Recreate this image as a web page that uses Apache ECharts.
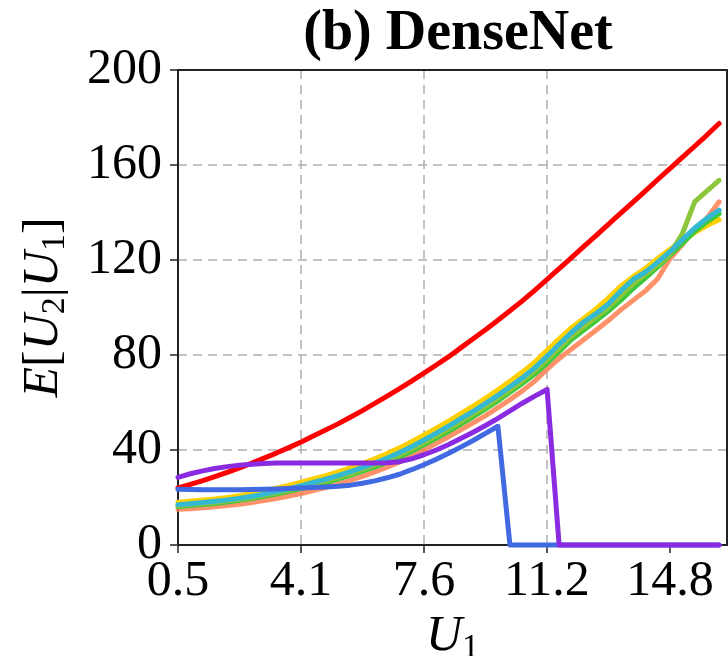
<!DOCTYPE html>
<html>
<head>
<meta charset="utf-8">
<script src="https://cdn.jsdelivr.net/npm/echarts@6/dist/echarts.min.js"></script>
<style>html,body{margin:0;padding:0;background:#fff;}#c{width:728px;height:656px;}</style>
</head>
<body>
<div id="c"></div>
<script>
// ---- data ----
const U1 = [0.50,0.86,1.22,1.57,1.93,2.29,2.65,3.00,3.36,3.72,4.08,4.43,4.79,5.15,5.51,5.86,6.22,6.58,6.94,7.29,7.65,8.01,8.37,8.72,9.08,9.44,9.80,10.15,10.51,10.87,11.23,11.58,11.94,12.30,12.66,13.01,13.37,13.73,14.09,14.44,14.80,15.16,15.52,15.87,16.23];
const xTickValues = [0.5, 4.075, 7.65, 11.225, 14.8];
const xTickLabels = ['0.5', '4.1', '7.6', '11.2', '14.8'];
const yTicks = [0, 40, 80, 120, 160, 200];

const redVals = [24,25.5,27.1,28.8,30.6,32.5,34.5,36.6,38.7,41.0,43.4,45.9,48.4,51.0,53.8,56.6,59.6,62.7,65.8,69.0,72.4,75.8,79.3,83.0,86.8,90.6,94.6,98.6,102.8,107.2,111.8,116.4,121,125.7,130.4,135,139.7,144.4,149.1,153.8,158.5,163.2,167.9,172.5,177.5];
const salmonVals = [15.0,15.3,15.7,16.1,16.6,17.2,17.9,18.7,19.6,20.6,21.7,22.9,24.2,25.6,27.2,28.9,30.8,32.8,35.0,37.4,40.0,42.8,45.6,48.5,51.4,54.5,57.8,61.2,64.9,69.0,74.0,78.5,82.5,86.5,90.5,94.5,99.0,103.0,107.0,112.0,120.5,126.5,133.0,137.5,144.5];
const yellowVals = [18.0,18.4,18.9,19.4,20.0,20.8,21.8,22.8,23.9,25.1,26.5,27.8,29.2,30.8,32.5,34.3,36.3,38.5,40.9,43.5,46.3,49.2,52.2,55.3,58.5,61.8,65.3,68.9,72.8,77.0,82.0,86.8,91.5,95.5,99.5,104.0,109.0,113.0,116.5,120.5,124.5,128.0,131.5,134.5,137.0];
const greenVals = [16.2,16.6,17.0,17.5,18.1,18.8,19.6,20.5,21.5,22.6,23.8,25.0,26.3,27.8,29.4,31.1,32.9,34.9,37.1,39.5,42.2,45.0,47.9,50.9,54.0,57.3,60.7,64.3,68.0,72.0,76.5,81.5,86.5,90.5,94.5,98.5,103.0,108.0,112.5,117.0,122.0,127.0,132.0,136.0,139.5];
const yellowGreenVals = [16.6,17.0,17.5,18.0,18.6,19.3,20.1,21.0,22.0,23.1,24.4,25.7,27.0,28.5,30.1,31.8,33.7,35.7,38.0,40.4,43.1,46.0,49.0,52.0,55.2,58.4,61.8,65.4,69.2,73.3,78.0,83.0,88.0,92.0,96.0,100.0,105.0,110.0,114.0,118.0,122.5,131.0,144.5,149.0,153.5];
const cyanVals = [17.0,17.4,17.9,18.4,19.0,19.7,20.5,21.4,22.5,23.7,25.0,26.3,27.7,29.2,30.9,32.6,34.5,36.6,38.9,41.4,44.2,47.1,50.1,53.2,56.3,59.6,63.0,66.6,70.4,74.6,79.5,84.5,89.5,94.0,97.5,101.5,107.0,111.8,115.0,119.0,123.5,128.5,133.5,137.5,141.0];
const blueVals = [23.5,23.4,23.3,23.3,23.3,23.3,23.4,23.5,23.6,23.8,24.0,24.2,24.4,24.7,25.2,26.0,27.0,28.3,29.8,31.7,33.8,36.1,38.6,41.2,44.0,47.0,50.0,0,0,0,0,0,0,0,0,0,0,0,0,0,0,0,0,0,0];
const purpleVals = [28.5,30.0,31.2,32.2,33.0,33.6,34.0,34.3,34.5,34.5,34.5,34.5,34.5,34.5,34.5,34.5,34.5,34.6,35.1,36.3,38.0,40.0,42.3,44.8,47.5,50.3,53.3,56.5,59.7,62.7,65.5,0,0,0,0,0,0,0,0,0,0,0,0,0,0];

const seriesDefs = [
  {name: 'red', vals: redVals, color: '#FF0000', opacity: 1},
  {name: 'salmon', vals: salmonVals, color: '#FF7F50', opacity: 0.85},
  {name: 'yellow', vals: yellowVals, color: '#FFD000', opacity: 1},
  {name: 'green', vals: greenVals, color: '#3FC83A', opacity: 1},
  {name: 'yellowgreen', vals: yellowGreenVals, color: '#8CC63A', opacity: 1},
  {name: 'cyan', vals: cyanVals, color: '#35B9D2', opacity: 1},
  {name: 'blue', vals: blueVals, color: '#4169E1', opacity: 1},
  {name: 'purple', vals: purpleVals, color: '#8A2BE2', opacity: 1}
];

const FONT = 'Liberation Serif';
const gridLine = {show: true, lineStyle: {color: '#b0b0b0', width: 1.5, type: [9, 6]}};
const chart = echarts.init(document.getElementById('c'), null, {renderer: 'canvas'});
chart.setOption({
  animation: false,
  backgroundColor: '#fff',
  title: {
    text: '(b) DenseNet',
    left: 453, top: 2, textAlign: 'center',
    textStyle: {fontFamily: FONT, fontWeight: 'bold', fontSize: 56, color: '#000'}
  },
  grid: {left: 178, right: 1, top: 70, bottom: 111, containLabel: false, outerBoundsMode: 'none'},
  xAxis: [{
    type: 'value', min: 0.5, max: 16.46,
    name: '{i|U}{s|1}', nameLocation: 'middle', nameGap: 62,
    nameTextStyle: {rich: {
      i: {fontFamily: FONT, fontStyle: 'italic', fontSize: 50, color: '#000', lineHeight: 56},
      s: {fontFamily: FONT, fontSize: 34, color: '#000', verticalAlign: 'bottom', lineHeight: 40}
    }},
    axisLine: {show: true, onZero: false, lineStyle: {color: '#222', width: 2}},
    axisTick: {show: true, length: 8, customValues: xTickValues, lineStyle: {color: '#222', width: 1.5}},
    axisLabel: {customValues: xTickValues, margin: 12, fontFamily: FONT, fontSize: 50, color: '#000',
      formatter: function (v) { const i = xTickValues.findIndex(t => Math.abs(t - v) < 1e-6); return i >= 0 ? xTickLabels[i] : ''; }},
    splitLine: Object.assign({showMinLine: false, showMaxLine: false}, gridLine)
  }, {
    type: 'value', min: 0.5, max: 16.46, position: 'top',
    axisLine: {show: true, onZero: false, lineStyle: {color: '#222', width: 2}},
    axisTick: {show: false}, axisLabel: {show: false}, splitLine: {show: false}
  }],
  yAxis: [{
    type: 'value', min: yTicks[0], max: yTicks[yTicks.length - 1], interval: 40,
    name: '{i|E}{n|[}{i|U}{s|2}{n||}{i|U}{s|1}{n|]}', nameLocation: 'middle', nameGap: 106, nameRotate: 90,
    nameTextStyle: {rich: {
      i: {fontFamily: FONT, fontStyle: 'italic', fontSize: 50, color: '#000', lineHeight: 56},
      n: {fontFamily: FONT, fontSize: 50, color: '#000', lineHeight: 56},
      s: {fontFamily: FONT, fontSize: 34, color: '#000', verticalAlign: 'bottom', lineHeight: 40}
    }},
    axisLine: {show: true, lineStyle: {color: '#222', width: 2}},
    axisTick: {show: true, length: 8, lineStyle: {color: '#222', width: 1.5}},
    axisLabel: {margin: 16, fontFamily: FONT, fontSize: 50, color: '#000'},
    splitLine: Object.assign({showMinLine: false, showMaxLine: false}, gridLine)
  }, {
    type: 'value', min: 0, max: 200, position: 'right',
    axisLine: {show: true, lineStyle: {color: '#222', width: 2}},
    axisTick: {show: false}, axisLabel: {show: false}, splitLine: {show: false}
  }],
  series: seriesDefs.map(function (s) {
    return {
      name: s.name, type: 'line', showSymbol: false, symbol: 'none', clip: false,
      xAxisIndex: 0, yAxisIndex: 0,
      data: U1.map(function (x, i) { return [x, s.vals[i]]; }),
      lineStyle: {color: s.color, width: 5, opacity: s.opacity, join: 'round', cap: 'round'},
      itemStyle: {color: s.color},
      emphasis: {disabled: true}
    };
  })
});
</script>
</body>
</html>
